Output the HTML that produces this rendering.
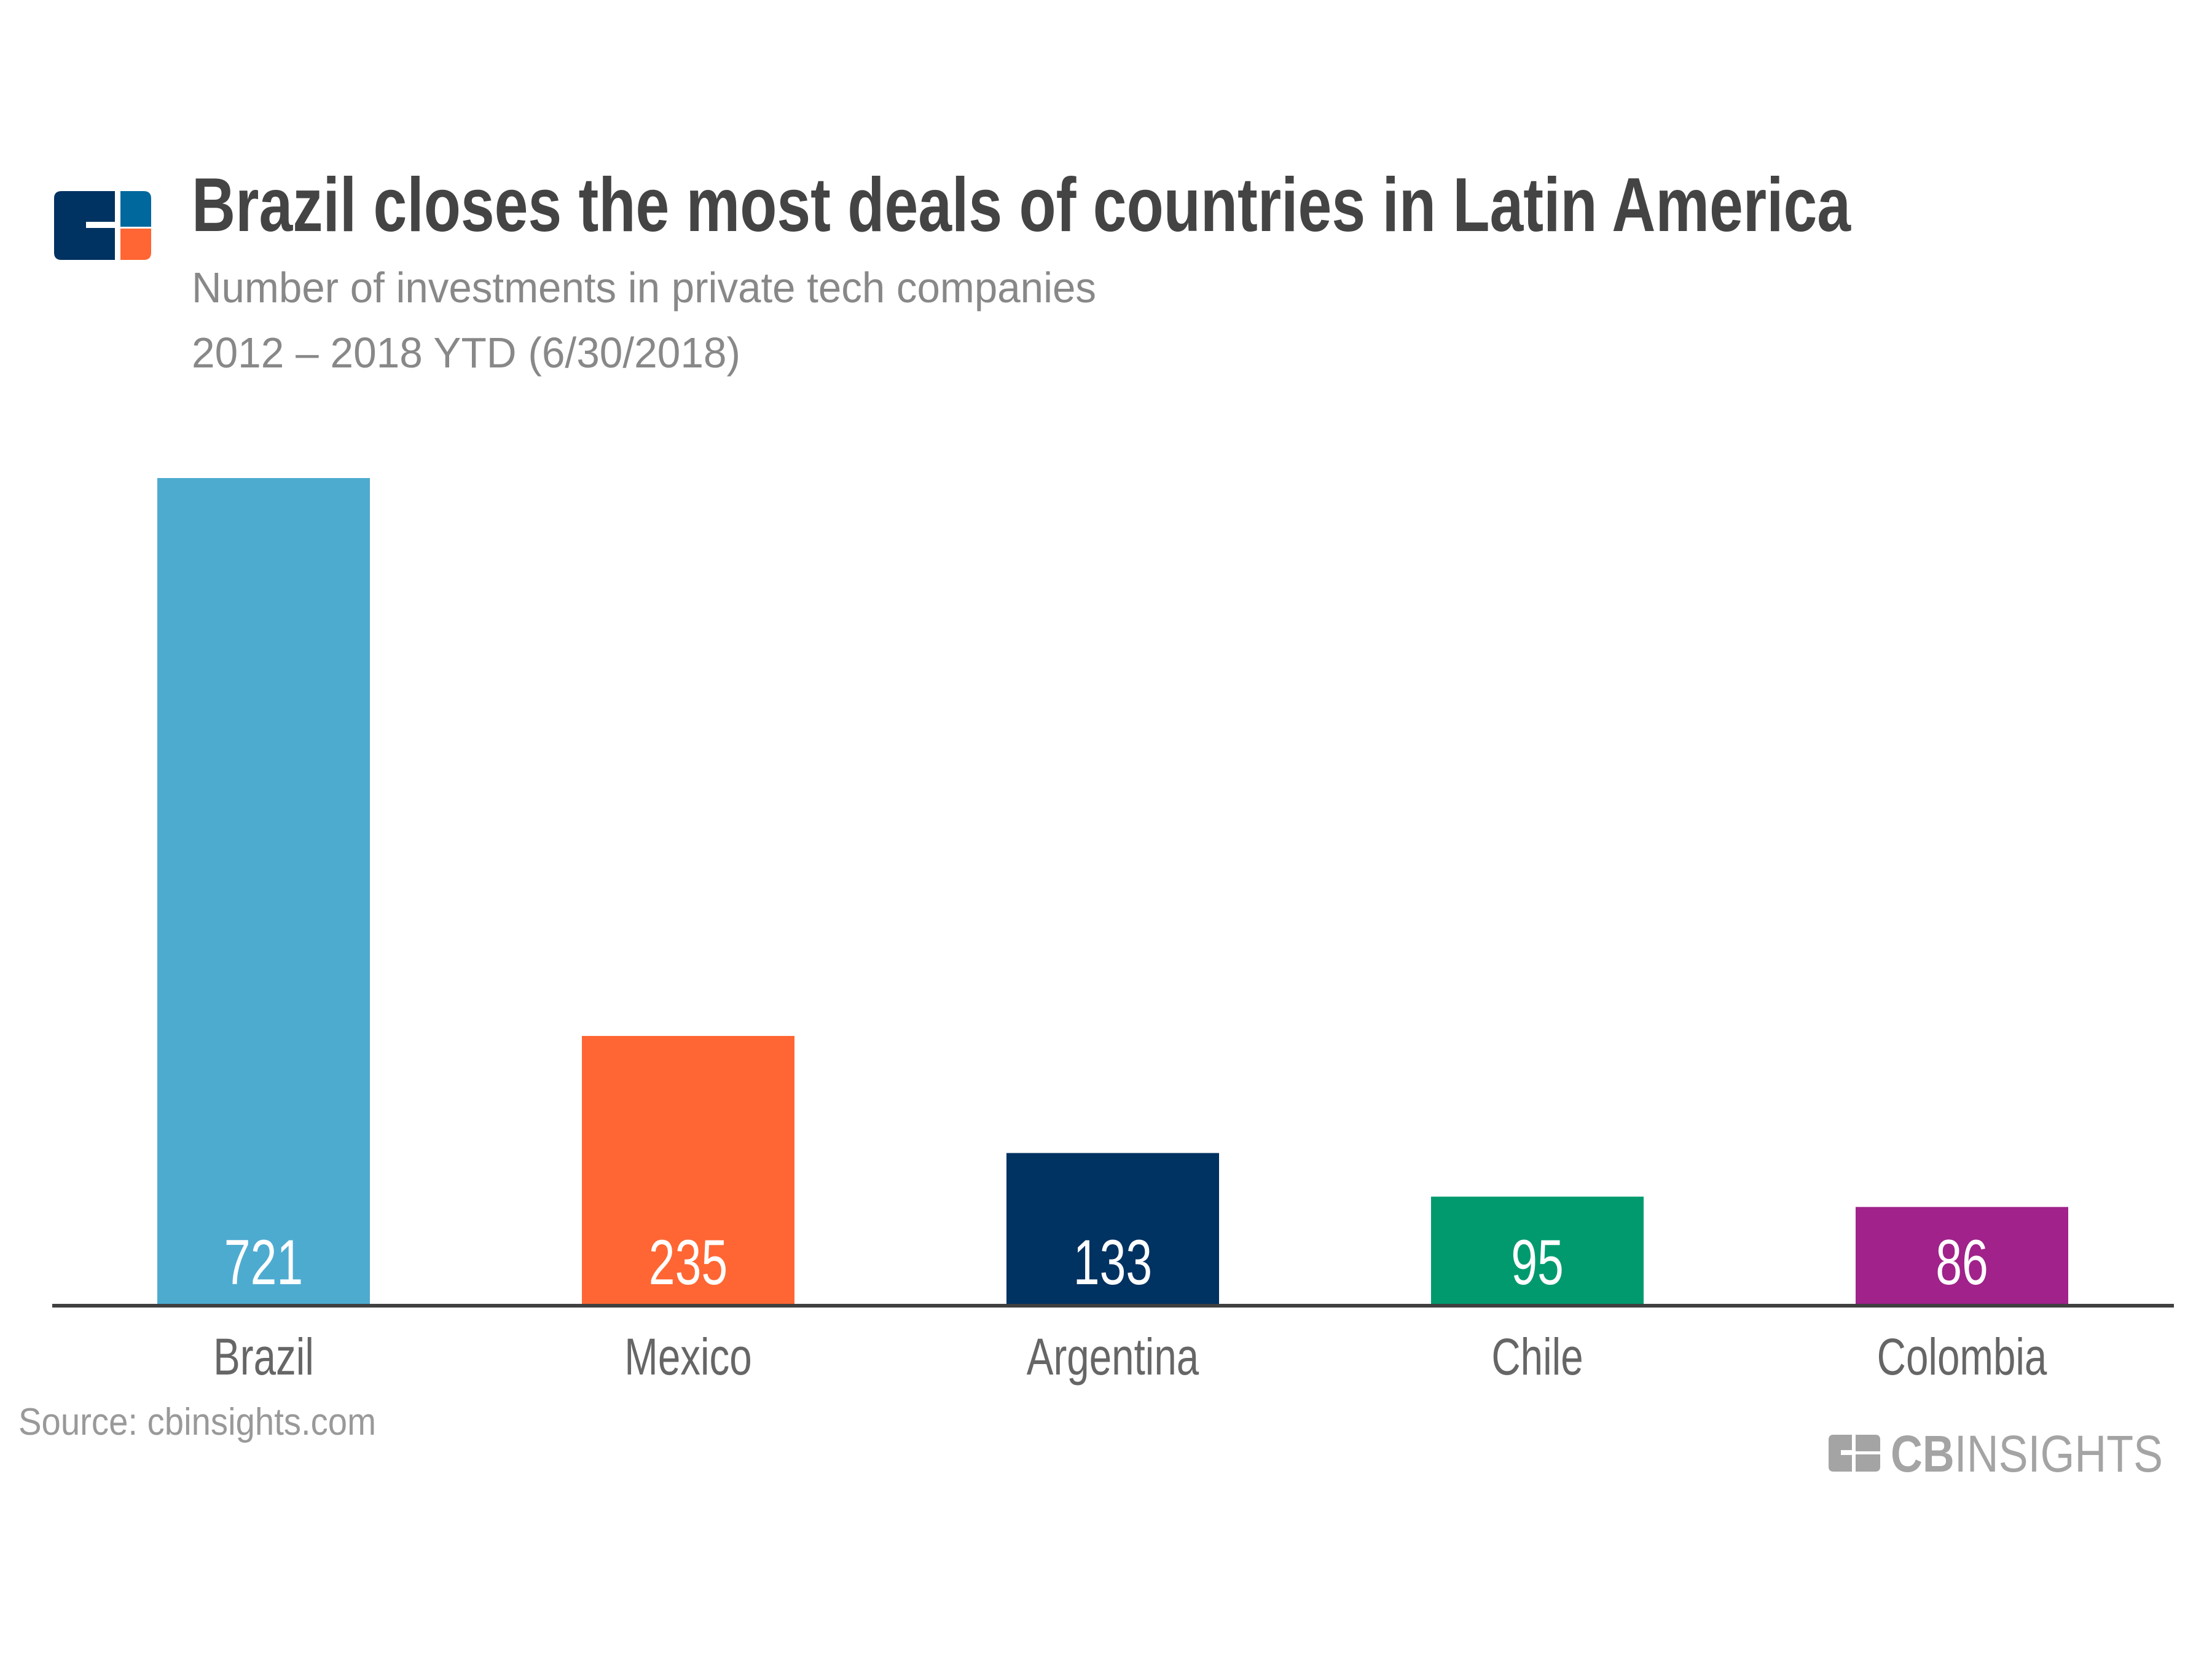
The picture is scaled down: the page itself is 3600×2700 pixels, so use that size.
<!DOCTYPE html>
<html><head><meta charset="utf-8">
<style>
html,body{margin:0;padding:0;background:#fff;}
svg{display:block;}
.narrow{font-family:"Liberation Sans Narrow","Liberation Sans",sans-serif;}
</style></head>
<body>
<svg id="chart" width="3600" height="2700" viewBox="0 0 3600 2700" xmlns="http://www.w3.org/2000/svg">
  <rect width="3600" height="2700" fill="#fff"/>
  <g>
    <path d="M100 311 H187 V361 H140 V371 H187 V423 H100 Q88 423 88 411 V323 Q88 311 100 311 Z" fill="#003262"/>
    <path d="M196 311 H234 Q246 311 246 323 V369 H196 Z" fill="#00689d"/>
    <path d="M196 372 H246 V411 Q246 423 234 423 H196 Z" fill="#ff6633"/>
  </g>
  <text class="narrow" x="312" y="376" font-size="124" font-weight="bold" fill="#444" textLength="2700" lengthAdjust="spacingAndGlyphs">Brazil closes the most deals of countries in Latin America</text>
  <text class="narrow" x="312" y="492" font-size="70" fill="#888" textLength="1472" lengthAdjust="spacingAndGlyphs">Number of investments in private tech companies</text>
  <text class="narrow" x="312" y="598" font-size="70" fill="#888" textLength="893" lengthAdjust="spacingAndGlyphs">2012 – 2018 YTD (6/30/2018)</text>
  <g id="bars"></g>
  <line x1="85" y1="2125" x2="3538" y2="2125" stroke="#404040" stroke-width="6"/>
  <text class="narrow" x="30" y="2335" font-size="62" fill="#999" textLength="582" lengthAdjust="spacingAndGlyphs">Source: cbinsights.com</text>
  <g>
    <path d="M2984 2335 H3014 V2360 H2996 V2368 H3014 V2395 H2984 Q2976 2395 2976 2387 V2343 Q2976 2335 2984 2335 Z" fill="#a5a4a4"/>
    <path d="M3020 2335 H3052 Q3060 2335 3060 2343 V2362 H3020 Z" fill="#a5a4a4"/>
    <path d="M3020 2367 H3060 V2387 Q3060 2395 3052 2395 H3020 Z" fill="#a5a4a4"/>
    <text x="3077" y="2395" font-family="Liberation Sans, sans-serif" font-size="84" fill="#a5a4a4" textLength="443" lengthAdjust="spacingAndGlyphs"><tspan font-weight="bold">CB</tspan>INSIGHTS</text>
  </g>
</svg>
<script>
const categories = ["Brazil", "Mexico", "Argentina", "Chile", "Colombia"];
const values = [721, 235, 133, 95, 86];
const colors = ["#4eabd0", "#ff6633", "#003262", "#009a6e", "#a0228a"];

const baseY = 2125, plotTop = 778, maxVal = 721;
const firstCenter = 429, step = 691, barW = 346;
function yScale(v){ return baseY - (v / maxVal) * (baseY - plotTop); }
function xCenter(i){ return firstCenter + i * step; }

const NS = "http://www.w3.org/2000/svg";
const g = document.getElementById("bars");
categories.forEach((c, i) => {
  const v = values[i];
  const r = document.createElementNS(NS, "rect");
  
  
  r.setAttribute("x", xCenter(i) - barW / 2);
  r.setAttribute("y", yScale(v));
  r.setAttribute("width", barW);
  r.setAttribute("height", baseY - yScale(v));
  r.setAttribute("fill", colors[i]);
  g.appendChild(r);

  const t = document.createElementNS(NS, "text");
  
  
  t.setAttribute("transform", "translate(" + xCenter(i) + ",2090) scale(0.74,1)");
  t.setAttribute("text-anchor", "middle");
  t.setAttribute("class", "narrow");
  t.setAttribute("font-size", "104");
  t.setAttribute("fill", "#fff");
  t.textContent = v;
  g.appendChild(t);

  const l = document.createElementNS(NS, "text");
  
  
  l.setAttribute("transform", "translate(" + xCenter(i) + ",2237) scale(0.78,1)");
  l.setAttribute("text-anchor", "middle");
  l.setAttribute("class", "narrow");
  l.setAttribute("font-size", "84");
  l.setAttribute("fill", "#666");
  l.textContent = c;
  g.appendChild(l);
});
</script>
</body></html>
